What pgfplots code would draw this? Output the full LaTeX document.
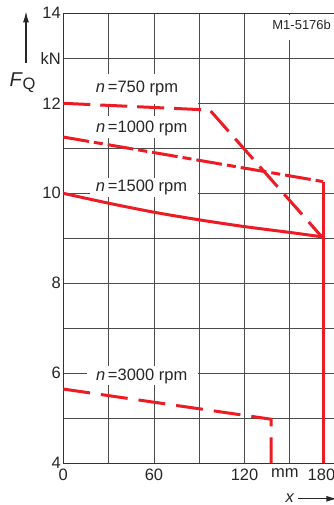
\documentclass[border=0pt]{standalone}
\usepackage{pgfplots}
\pgfplotsset{compat=1.18}
\usetikzlibrary{arrows.meta}
\usepackage{fontspec}
\setmainfont{Liberation Sans}
\definecolor{redline}{RGB}{237,28,36}
\begin{document}
\begin{tikzpicture}
\begin{axis}[
 at={(0,0)}, anchor=south west,
 scale only axis, width=271.9bp, height=450bp,
 xmin=0, xmax=180, ymin=4, ymax=14,
 xtick={0,30,...,180}, ytick={4,...,14},
 xticklabels={0,,60,,120,\hbox to 0pt{\hss mm\hskip 10bp\hss},\hbox to 0pt{\hss 180}},
 yticklabels={4,,6,,8,,10,,12,kN,14},
 major tick length=0,
 grid=major,
 grid style={black!70, line width=0.8bp},
 axis line style={black!80, line width=0.9bp},
 tick label style={font=\fontsize{16.5bp}{18bp}\selectfont, text=black!85},
 /pgf/number format/assume math mode=true,
 xticklabel style={yshift=-2bp},
 yticklabel style={xshift=1bp},
 clip=false,
]
% white label backgrounds
\fill[white] (axis cs:17.7,11.98) rectangle (axis cs:89.2,12.65);
\fill[white] (axis cs:17.7,11.23) rectangle (axis cs:89.2,11.72);
\fill[white] (axis cs:17.7,9.92) rectangle (axis cs:89.2,10.34);
\fill[white] (axis cs:15.7,5.73) rectangle (axis cs:89.4,6.16);
\fill[white] (axis cs:127,13.41) rectangle (axis cs:179.5,13.97);

\addplot[redline, line width=3bp, mark=none, line join=miter, dash pattern=on 27bp off 10bp] coordinates {(0,12.0) (97,11.85) (172,9.0)};
\addplot[redline, line width=3bp, mark=none, dash pattern=on 26bp off 5bp on 9bp off 5bp] coordinates {(0,11.25) (172,10.26)};
\addplot[redline, line width=3bp, mark=none] coordinates {(172,10.26) (172,4)};
\addplot[redline, line width=3bp, mark=none, smooth] coordinates {(0,10) (30,9.78) (60,9.58) (90,9.41) (120,9.26) (150,9.13) (172,9.03)};
\addplot[redline, line width=3bp, mark=none, line join=miter, dash pattern=on 27bp off 11bp] coordinates {(0,5.65) (137.5,4.98) (137.5,4)};

\node[font=\fontsize{16.5bp}{18bp}\selectfont, text=black!85] at (axis cs:48.8,12.34) {\textit{n}\,=750 rpm};
\node[font=\fontsize{16.5bp}{18bp}\selectfont, text=black!85] at (axis cs:51.9,11.43) {\textit{n}\,=1000 rpm};
\node[font=\fontsize{16.5bp}{18bp}\selectfont, text=black!85] at (axis cs:51.8,10.13) {\textit{n}\,=1500 rpm};
\node[font=\fontsize{16.5bp}{18bp}\selectfont, text=black!85] at (axis cs:51.9,5.92) {\textit{n}\,=3000 rpm};
\node[font=\fontsize{13bp}{15bp}\selectfont, text=black!85] at (axis cs:157.8,13.75) {M1-5176b};
\end{axis}
\draw[-{Latex[length=11bp,width=6bp]}, line width=1.3bp, black!85] (-37.3bp,400bp) -- (-37.3bp,452bp);
\node[text=black!85] at (-40.8bp,381bp) {\fontsize{20bp}{22bp}\selectfont\textit{F}\raisebox{-0.3ex}{\fontsize{16.5bp}{18bp}\selectfont Q}};
\node[anchor=base, text=black!85, inner sep=0pt] at (226.7bp,-39.5bp) {\fontsize{16.5bp}{18bp}\selectfont\textit{x}};
\draw[-{Latex[length=11bp,width=6bp]}, line width=1.3bp, black!85] (235bp,-35.5bp) -- (274bp,-35.5bp);
\pgfresetboundingbox
\path (-63.3bp,-41.7bp) rectangle (270.7bp,463.3bp);
\end{tikzpicture}
\end{document}
